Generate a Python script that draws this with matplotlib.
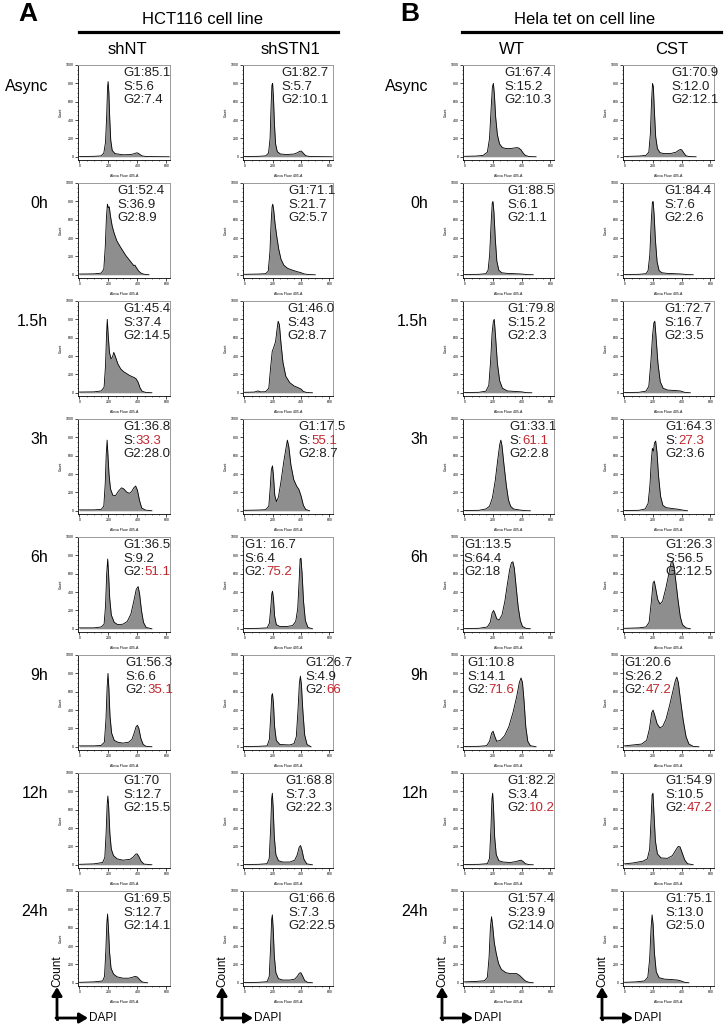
import matplotlib
matplotlib.use("Agg")
import matplotlib.pyplot as plt
from matplotlib.ticker import MultipleLocator

plt.rcParams['font.family'] = ['Liberation Sans', 'DejaVu Sans']

timepoints = ["Async", "0h", "1.5h", "3h", "6h", "9h", "12h", "24h"]
columns = ["shNT", "shSTN1", "WT", "CST"]

# G1 / S / G2 percentages written on each panel
shnt_g1 = ["85.1", "52.4", "45.4", "36.8", "36.5", "56.3", "70", "69.5"]
shnt_s = ["5.6", "36.9", "37.4", "33.3", "9.2", "6.6", "12.7", "12.7"]
shnt_g2 = ["7.4", "8.9", "14.5", "28.0", "51.1", "35.1", "15.5", "14.1"]
shnt_red = ["", "", "", "S", "G2", "G2", "", ""]

shstn1_g1 = ["82.7", "71.1", "46.0", "17.5", " 16.7", "26.7", "68.8", "66.6"]
shstn1_s = ["5.7", "21.7", "43", "55.1", "6.4", "4.9", "7.3", "7.3"]
shstn1_g2 = ["10.1", "5.7", "8.7", "8.7", "75.2", "66", "22.3", "22.5"]
shstn1_red = ["", "", "", "S", "G2", "G2", "", ""]

wt_g1 = ["67.4", "88.5", "79.8", "33.1", "13.5", "10.8", "82.2", "57.4"]
wt_s = ["15.2", "6.1", "15.2", "61.1", "64.4", "14.1", "3.4", "23.9"]
wt_g2 = ["10.3", "1.1", "2.3", "2.8", "18", "71.6", "10.2", "14.0"]
wt_red = ["", "", "", "S", "", "G2", "G2", ""]

cst_g1 = ["70.9", "84.4", "72.7", "64.3", "26.3", "20.6", "54.9", "75.1"]
cst_s = ["12.0", "7.6", "16.7", "27.3", "56.5", "26.2", "10.5", "13.0"]
cst_g2 = ["12.1", "2.6", "3.5", "3.6", "12.5", "47.2", "47.2", "5.0"]
cst_red = ["", "", "", "S", "", "G2", "G2", ""]

# DAPI histograms: (Alexa Fluor 405-A, count)
shnt_hist = [
    [(0,3),(100,5),(150,10),(168,40),(180,160),(188,450),(194,760),(198,820),(203,700),(209,420),(216,180),(226,70),(245,35),(300,22),(350,24),(375,32),(392,42),(402,42),(415,28),(432,10),(460,3),(620,0)],
    [(0,8),(100,10),(150,18),(168,60),(178,300),(186,620),(193,770),(199,730),(206,740),(214,640),(226,530),(240,450),(258,370),(280,310),(300,260),(320,210),(340,170),(360,130),(375,100),(383,105),(392,80),(408,42),(425,18),(445,6),(480,0)],
    [(0,8),(100,10),(150,20),(170,60),(180,300),(187,640),(192,800),(198,640),(207,440),(218,370),(228,390),(237,440),(248,395),(265,315),(285,260),(305,230),(325,210),(345,190),(365,175),(380,165),(392,150),(405,115),(418,55),(432,18),(455,5),(500,0)],
    [(0,10),(100,10),(150,15),(168,50),(178,300),(185,620),(191,770),(197,600),(204,400),(214,240),(230,170),(249,165),(270,215),(290,250),(305,240),(325,205),(345,190),(360,210),(375,250),(388,270),(400,225),(415,110),(430,30),(455,8),(500,0)],
    [(0,10),(100,10),(150,20),(170,50),(180,250),(188,600),(195,760),(201,600),(209,330),(220,150),(240,70),(265,45),(300,50),(330,80),(355,160),(375,300),(392,430),(405,460),(415,380),(428,200),(442,70),(460,15),(500,0)],
    [(0,10),(100,10),(150,15),(172,50),(183,300),(191,650),(197,800),(203,640),(211,330),(222,150),(240,70),(265,50),(300,40),(340,50),(362,80),(378,150),(390,215),(400,235),(410,200),(424,90),(440,25),(460,5),(500,0)],
    [(0,5),(100,10),(160,25),(175,80),(184,350),(191,650),(196,750),(202,620),(210,340),(220,170),(235,100),(260,65),(300,50),(350,60),(372,85),(388,115),(398,120),(410,90),(425,40),(445,8),(500,0)],
    [(0,5),(100,10),(160,20),(173,70),(182,350),(189,650),(194,750),(200,600),(208,330),(218,160),(235,95),(260,65),(300,50),(340,50),(365,60),(385,70),(400,62),(418,30),(435,8),(470,0)],
]
shstn1_hist = [
    [(0,3),(100,5),(150,10),(170,40),(181,200),(188,550),(194,780),(199,800),(205,640),(212,350),(220,140),(232,55),(255,30),(300,25),(350,30),(375,45),(390,60),(402,62),(415,40),(432,12),(460,3),(620,0)],
    [(0,5),(100,8),(150,12),(168,40),(180,250),(188,560),(195,740),(200,770),(207,700),(216,560),(228,420),(242,280),(258,170),(278,105),(305,70),(340,50),(370,35),(395,25),(420,10),(450,3),(500,0)],
    [(0,5),(70,8),(95,20),(115,10),(150,12),(172,50),(185,280),(196,450),(208,500),(220,560),(230,690),(238,780),(247,740),(258,540),(272,330),(292,180),(320,110),(350,75),(380,55),(400,40),(415,15),(440,3),(480,0)],
    [(0,5),(100,8),(150,12),(172,50),(182,250),(190,450),(198,490),(205,380),(214,170),(226,100),(240,150),(258,320),(278,540),(293,680),(303,770),(313,700),(328,500),(348,340),(368,270),(385,230),(400,160),(416,60),(432,15),(460,0)],
    [(0,3),(100,5),(160,10),(176,60),(186,230),(193,380),(198,410),(205,330),(213,140),(225,45),(250,25),(300,25),(340,35),(362,80),(376,220),(386,520),(393,760),(399,770),(407,600),(417,300),(430,90),(448,15),(480,0)],
    [(0,3),(100,5),(160,10),(176,80),(186,350),(193,560),(198,580),(205,470),(213,220),(225,70),(250,25),(320,20),(350,35),(366,110),(378,400),(388,700),(395,770),(402,680),(412,400),(425,130),(442,25),(470,0)],
    [(0,3),(100,5),(160,12),(175,70),(185,400),(192,720),(197,780),(203,620),(211,300),(222,110),(240,45),(270,30),(320,30),(355,50),(373,110),(386,190),(396,210),(406,160),(420,60),(440,10),(480,0)],
    [(0,3),(100,5),(160,12),(175,70),(185,400),(192,690),(197,740),(203,590),(211,290),(222,110),(240,45),(270,30),(320,30),(355,40),(373,70),(388,105),(398,110),(410,75),(425,25),(445,5),(480,0)],
]
wt_hist = [
    [(0,5),(80,8),(130,15),(160,50),(175,200),(186,520),(195,760),(202,800),(209,680),(218,430),(230,240),(245,140),(265,100),(290,90),(320,90),(345,95),(365,100),(380,95),(395,75),(410,40),(425,15),(450,3),(500,0)],
    [(0,3),(100,5),(150,12),(165,50),(176,220),(186,560),(194,780),(199,800),(206,680),(215,400),(226,150),(240,50),(260,22),(300,15),(350,12),(400,8),(440,2),(480,0)],
    [(0,3),(100,5),(150,18),(170,80),(182,330),(193,650),(202,780),(208,800),(216,640),(230,320),(246,130),(265,50),(300,20),(350,15),(400,10),(430,2),(470,0)],
    [(0,3),(100,5),(150,20),(175,50),(195,140),(215,330),(232,550),(246,720),(254,770),(262,710),(276,500),(292,280),(307,120),(322,50),(342,20),(380,10),(420,2),(460,0)],
    [(0,3),(100,5),(160,20),(180,70),(193,170),(203,200),(212,170),(225,110),(242,95),(262,150),(282,300),(300,490),(315,640),(328,720),(338,730),(348,660),(360,470),(375,240),(390,90),(405,25),(430,5),(460,0)],
    [(0,3),(100,5),(155,12),(175,60),(190,150),(200,170),(210,120),(225,60),(250,70),(280,120),(310,220),(340,380),(365,550),(383,700),(395,750),(405,700),(416,500),(428,220),(442,60),(460,12),(500,0)],
    [(0,3),(100,5),(160,12),(175,70),(185,400),(192,720),(197,780),(203,620),(211,300),(222,110),(240,45),(270,30),(320,25),(360,35),(380,45),(395,50),(410,35),(425,12),(450,2),(480,0)],
    [(0,10),(80,15),(140,22),(160,60),(172,280),(181,600),(189,720),(197,620),(208,440),(222,320),(238,210),(258,145),(290,110),(320,100),(345,100),(365,100),(385,80),(405,50),(425,20),(450,5),(480,0)],
]
cst_hist = [
    [(0,3),(100,8),(150,15),(170,50),(181,250),(189,600),(196,800),(202,760),(209,500),(218,220),(230,90),(248,45),(275,35),(320,35),(360,50),(378,70),(390,80),(400,75),(413,45),(428,12),(450,3),(500,0)],
    [(0,3),(100,5),(150,12),(165,45),(177,220),(187,580),(195,790),(200,800),(207,660),(216,380),(228,140),(242,45),(262,22),(300,15),(350,12),(400,8),(440,2),(480,0)],
    [(0,3),(100,5),(150,18),(170,70),(184,330),(196,620),(205,760),(212,780),(220,620),(234,320),(250,120),(270,50),(300,30),(350,25),(390,20),(420,5),(460,0)],
    [(0,3),(100,5),(145,20),(165,80),(178,280),(188,560),(195,680),(202,650),(210,740),(218,760),(227,640),(238,380),(252,160),(268,60),(290,35),(330,25),(370,18),(405,8),(440,0)],
    [(0,5),(100,10),(150,20),(172,70),(188,300),(200,500),(208,520),(218,440),(232,320),(248,270),(266,300),(290,450),(310,600),(325,720),(335,740),(346,680),(360,500),(375,300),(390,130),(405,45),(430,10),(460,0)],
    [(0,10),(60,20),(120,30),(155,70),(175,200),(190,370),(200,400),(212,340),(228,250),(248,205),(268,225),(290,300),(315,450),(340,620),(355,720),(365,760),(376,700),(392,500),(410,290),(430,110),(450,30),(480,5),(520,0)],
    [(0,10),(60,20),(130,40),(160,65),(176,170),(186,500),(193,760),(199,780),(206,560),(216,260),(230,120),(255,75),(300,70),(335,100),(358,160),(375,200),(388,195),(403,130),(420,55),(440,12),(480,0)],
    [(0,5),(80,10),(140,20),(163,60),(176,260),(186,600),(193,740),(200,640),(209,330),(222,120),(242,55),(280,40),(330,35),(370,30),(395,20),(420,5),(450,0)],
]

col_g1 = [shnt_g1, shstn1_g1, wt_g1, cst_g1]
col_s = [shnt_s, shstn1_s, wt_s, cst_s]
col_g2 = [shnt_g2, shstn1_g2, wt_g2, cst_g2]
col_red = [shnt_red, shstn1_red, wt_red, cst_red]
col_hist = [shnt_hist, shstn1_hist, wt_hist, cst_hist]

# layout (pixels)
W, H = 728, 1024
col_left = [78, 243, 463, 623]
col_w = [92, 90, 91, 91]
row_top0, row_step, ax_h = 65, 118, 95
# where the % text starts inside each panel (axes fraction)
text_x = [
    [0.49, 0.43, 0.49, 0.49, 0.49, 0.52, 0.49, 0.49],
    [0.43, 0.50, 0.49, 0.62, 0.02, 0.69, 0.47, 0.50],
    [0.45, 0.49, 0.49, 0.51, 0.01, 0.05, 0.49, 0.49],
    [0.53, 0.46, 0.46, 0.47, 0.47, 0.02, 0.47, 0.47],
]
RED = '#c0272d'
INK = '#1e1e1e'
FILL = '#8e8e8e'

fig = plt.figure(figsize=(W / 100, H / 100), dpi=100)


def fx(px):
    return px / W


def fy(py):
    return 1 - py / H


def put_line(ax, x, y, key, val, red):
    kw = dict(fontsize=9.5, ha='left')
    if not red:
        ax.text(x, y, key + val, transform=ax.transAxes, va='center', color=INK, **kw)
    else:
        t = ax.text(x, y, key, transform=ax.transAxes, va='center', color=INK, **kw)
        ax.annotate(val, xycoords=t, xy=(1, 0), va='bottom', color=RED, **kw)


for c in range(4):
    for r in range(8):
        top = row_top0 + row_step * r
        ax = fig.add_axes([fx(col_left[c]), fy(top + ax_h), fx(col_w[c]), ax_h / H])
        pts = col_hist[c][r]
        xs = [p[0] for p in pts]
        ys = [p[1] for p in pts]
        ax.fill_between(xs, ys, 0, color=FILL, lw=0)
        ax.plot(xs, ys, color='black', lw=0.6)
        ax.set_xlim(-10, 625)
        ax.set_ylim(-35, 1000)
        ax.xaxis.set_major_locator(MultipleLocator(200))
        ax.xaxis.set_minor_locator(MultipleLocator(50))
        ax.yaxis.set_major_locator(MultipleLocator(200))
        ax.yaxis.set_minor_locator(MultipleLocator(50))
        ax.tick_params(which='major', length=2, width=0.5, labelsize=2.5, pad=1)
        ax.tick_params(which='minor', length=1, width=0.4)
        for s in ['left', 'bottom']:
            ax.spines[s].set_linewidth(0.6)
        for s in ['top', 'right']:
            ax.spines[s].set_color('#9a9a9a')
            ax.spines[s].set_linewidth(0.7)
        ax.set_ylabel("Count", fontsize=2.5, labelpad=2)
        ax.set_xlabel("Alexa Fluor 405-A", fontsize=2.5, labelpad=4)

        red = col_red[c][r]
        tx = text_x[c][r]
        put_line(ax, tx, 1 - 8 / ax_h, "G1:", col_g1[c][r], red == "G1")
        put_line(ax, tx, 1 - 21.5 / ax_h, "S:", col_s[c][r], red == "S")
        put_line(ax, tx, 1 - 35 / ax_h, "G2:", col_g2[c][r], red == "G2")

# row labels
for r, lab in enumerate(timepoints):
    yy = fy(row_top0 + row_step * r + 21)
    fig.text(fx(48), yy, lab, fontsize=11.5, ha='right', va='center')
    fig.text(fx(428), yy, lab, fontsize=11.5, ha='right', va='center')

# column headers
for c, lab in enumerate(columns):
    fig.text(fx(col_left[c] + col_w[c] / 2 + 3), fy(50), lab, fontsize=12, ha='center', va='center')

fig.text(fx(18), fy(14), "A", fontsize=19, fontweight='bold', ha='left', va='center')
fig.text(fx(400), fy(14), "B", fontsize=19, fontweight='bold', ha='left', va='center')
fig.text(fx(203), fy(19), "HCT116 cell line", fontsize=12, ha='center', va='center')
fig.text(fx(585), fy(19), "Hela tet on cell line", fontsize=12, ha='center', va='center')
fig.add_artist(plt.Line2D([fx(79), fx(338)], [fy(32), fy(32)], color='black', lw=2.3))
fig.add_artist(plt.Line2D([fx(462), fx(721)], [fy(32), fy(32)], color='black', lw=2.3))

# Count / DAPI arrows under each column
for c in range(4):
    ox = col_left[c] - 21
    oy = 1018
    arrow = dict(arrowstyle='-|>,head_length=0.5,head_width=0.3', color='black', lw=2, shrinkA=0, shrinkB=0)
    fig.add_artist(plt.Line2D([fx(ox), fx(ox)], [fy(oy + 1), fy(oy)], color='black', lw=2))
    plt.annotate("", xy=(fx(ox), fy(987)), xytext=(fx(ox), fy(oy + 1)),
                 xycoords='figure fraction', arrowprops=arrow)
    plt.annotate("", xy=(fx(ox + 31), fy(oy)), xytext=(fx(ox - 1), fy(oy)),
                 xycoords='figure fraction', arrowprops=arrow)
    fig.text(fx(ox + 32), fy(oy), "DAPI", fontsize=8.5, ha='left', va='center')
    fig.text(fx(ox), fy(971), "Count", fontsize=8.5, rotation=90, ha='center', va='center')

fig.savefig("out.png", dpi=100)
